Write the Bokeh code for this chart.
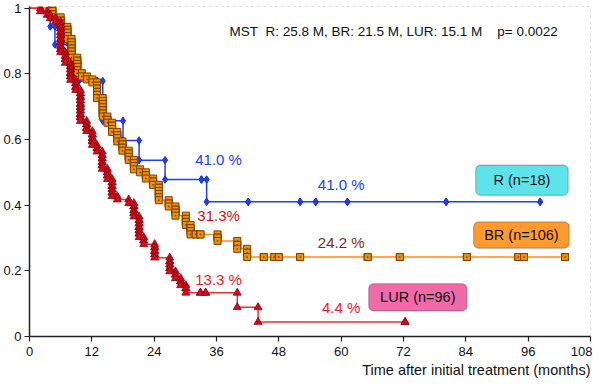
from bokeh.plotting import figure
from bokeh.models import FixedTicker, Label, BoxAnnotation, Range1d, Title
from bokeh.embed import file_html
from bokeh.resources import INLINE

# ---------------- data ----------------
x_ticks = [0, 12, 24, 36, 48, 60, 72, 84, 96, 108]
y_ticks = [0, 0.2, 0.4, 0.6, 0.8, 1.0]
y_tick_labels = ["0", "0.2", "0.4", "0.6", "0.8", "1"]

# R (n=18): event / censor times (months) and survival after each
r_time = [4.0, 4.9, 7.5, 9.5, 13.0, 14.1, 18.0, 21.1, 26.1, 33.1, 34.1,
          42.1, 52.1, 55.1, 61.2, 80.2, 98.3]
r_surv = [0.944, 0.889, 0.833, 0.778, 0.778, 0.657, 0.597, 0.537, 0.478, 0.478, 0.410,
          0.410, 0.410, 0.410, 0.410, 0.410, 0.410]

# BR (n=106)
br_time = [4.4, 4.4, 4.4, 6.0, 6.0, 6.0, 7.3, 7.3, 7.3, 7.3,
           8.1, 8.1, 8.1, 8.1, 8.1, 8.1, 9.2, 9.2, 9.2, 9.2, 9.2,
           10.1, 11.1, 12.1, 13.0, 13.0, 13.0, 13.0, 13.0,
           14.1, 14.1, 14.1, 14.1, 14.1, 14.1, 15.0, 15.0,
           15.9, 15.9, 15.9, 16.9, 16.9, 16.9, 17.9, 17.9, 17.9,
           19.1, 19.1, 19.1, 20.1, 20.1, 20.1, 21.3, 22.4, 22.4,
           23.8, 23.8, 24.9, 24.9, 24.9, 24.9, 24.9, 26.8, 26.8,
           28.1, 28.1, 28.1, 30.1, 30.1, 30.1, 31.0, 31.0, 31.0,
           32.0, 32.9, 36.2, 36.2, 40.0, 40.0, 41.9, 41.9,
           45.1, 47.1, 48.0, 52.1, 65.1, 71.3, 84.2, 94.1, 95.2, 103.1]
br_surv = [0.991, 0.981, 0.972, 0.962, 0.953, 0.943, 0.934, 0.925, 0.915, 0.906,
           0.896, 0.887, 0.877, 0.868, 0.858, 0.849, 0.840, 0.830, 0.821, 0.811, 0.802,
           0.792, 0.783, 0.774, 0.764, 0.755, 0.745, 0.736, 0.726,
           0.717, 0.708, 0.698, 0.689, 0.679, 0.670, 0.660, 0.651,
           0.642, 0.632, 0.623, 0.613, 0.604, 0.594, 0.585, 0.575, 0.566,
           0.557, 0.547, 0.538, 0.528, 0.519, 0.509, 0.500, 0.491, 0.481,
           0.472, 0.462, 0.453, 0.443, 0.434, 0.424, 0.415, 0.405, 0.396,
           0.386, 0.377, 0.368, 0.358, 0.349, 0.340, 0.330, 0.321, 0.311,
           0.311, 0.311, 0.301, 0.291, 0.279, 0.267, 0.255, 0.242,
           0.242, 0.242, 0.242, 0.242, 0.242, 0.242, 0.242, 0.242, 0.242, 0.242]

# LUR (n=96)
lur_time = [2.1, 3.4, 4.0, 5.0,
            6.0, 6.0, 6.0, 6.0, 6.0, 6.0, 6.0, 6.0, 6.0,
            6.9, 6.9, 6.9, 7.9, 7.9, 7.9, 7.9, 7.9, 8.9, 8.9, 8.9,
            9.8, 9.8, 9.8, 9.8, 9.8, 9.8, 9.8, 9.8, 9.8,
            11.0, 11.0, 11.0, 12.1, 12.1, 12.1, 12.1, 13.0, 13.0,
            14.0, 14.0, 14.0, 14.0, 14.0, 15.0, 15.0, 15.0,
            15.9, 15.9, 15.9, 15.9, 15.9, 16.9, 19.1,
            20.1, 20.1, 20.1, 20.1, 21.1, 21.1, 21.1, 21.1, 21.1, 21.1,
            22.0, 22.0, 24.1, 24.1, 24.1, 24.1, 27.0, 27.0, 27.0, 27.0,
            28.1, 28.1, 29.1, 29.1, 30.1, 30.1, 32.9, 33.9, 40.0, 44.0, 72.3]
lur_surv = [0.990, 0.979, 0.969, 0.958,
            0.948, 0.938, 0.927, 0.917, 0.906, 0.896, 0.885, 0.875, 0.865,
            0.854, 0.844, 0.833, 0.823, 0.813, 0.802, 0.792, 0.781, 0.771, 0.760, 0.750,
            0.740, 0.729, 0.719, 0.708, 0.698, 0.688, 0.677, 0.667, 0.656,
            0.646, 0.635, 0.625, 0.615, 0.604, 0.594, 0.583, 0.573, 0.563,
            0.552, 0.542, 0.531, 0.521, 0.510, 0.500, 0.490, 0.479,
            0.469, 0.458, 0.448, 0.438, 0.427, 0.417, 0.406,
            0.396, 0.385, 0.375, 0.365, 0.354, 0.344, 0.333, 0.323, 0.313, 0.302,
            0.292, 0.281, 0.271, 0.260, 0.250, 0.240, 0.229, 0.219, 0.208, 0.198,
            0.188, 0.177, 0.167, 0.156, 0.146, 0.133, 0.133, 0.133, 0.089, 0.044, 0.044]

FONT = "Liberation Sans"
NB = "\u00a0"


def km_steps(times, surv):
    xs, ys = [0.0], [1.0]
    prev = 1.0
    for t, s in zip(times, surv):
        xs += [t, t]
        ys += [prev, s]
        prev = s
    return xs, ys


p = figure(width=592, height=378, output_backend="svg", toolbar_location=None,
           x_range=Range1d(0, 108), y_range=Range1d(0, 1.005),
           min_border_left=20, min_border_right=2, min_border_top=6, min_border_bottom=10)
p.grid.visible = False
p.outline_line_color = "#d8d8d8"
p.outline_line_dash = "dotted"
p.background_fill_color = "white"
p.border_fill_color = "white"

for ax in (p.xaxis[0], p.yaxis[0]):
    ax.axis_line_color = "#222222"
    ax.axis_line_width = 1.5
    ax.major_tick_line_color = "#222222"
    ax.major_tick_line_width = 1.2
    ax.major_tick_out = 5
    ax.major_tick_in = 0
    ax.minor_tick_line_color = None
    ax.major_label_text_font = FONT
    ax.major_label_text_font_size = "13px"
    ax.major_label_text_color = "#111111"
    ax.major_label_standoff = 3

p.xaxis.major_label_standoff = 5
p.xaxis.ticker = FixedTicker(ticks=x_ticks)
p.yaxis.ticker = FixedTicker(ticks=y_ticks)
p.yaxis.major_label_overrides = {t: l for t, l in zip(y_ticks, y_tick_labels)}

p.add_layout(Title(text="Time after initial treatment (months)", align="right",
                   text_font=FONT, text_font_size="14.5px", text_font_style="normal",
                   text_color="#111111", standoff=2), "below")

# curves
rx, ry = km_steps(r_time, r_surv)
bx, by = km_steps(br_time, br_surv)
lx, ly = km_steps(lur_time, lur_surv)

p.line(rx, ry, line_color="#1f3dff", line_width=1.5)
p.scatter(rx[1:], ry[1:], marker="diamond", size=7.5, fill_color="#1f3dff", line_color="#1030e0")

p.line(bx, by, line_color="#ff8c1a", line_width=1.5)
p.scatter(bx[1:], by[1:], marker="square_dot", size=7, fill_color="#f29100",
          line_color="#7a4000", line_width=1)

p.line(lx, ly, line_color="#e8303a", line_width=1.5)
p.scatter(lx[1:], ly[1:], marker="triangle", size=8, fill_color="#dc0a18",
          line_color="#8a0010", line_width=0.8)

# annotations
mst = "MST" + NB * 2 + "R: 25.8 M, BR: 21.5 M, LUR: 15.1 M" + NB * 4 + "p= 0.0022"
p.add_layout(Label(x=38.5, y=0.928, text=mst,
                   text_font=FONT, text_font_size="13.5px", text_color="#111111",
                   text_baseline="middle"))

pct = [(36.4, 0.540, "41.0 %", "#2040ff"),
       (60.0, 0.463, "41.0 %", "#2040ff"),
       (36.4, 0.367, "31.3%", "#d01020"),
       (60.0, 0.287, "24.2 %", "#8b1e1e"),
       (36.4, 0.173, "13.3 %", "#e8202a"),
       (60.0, 0.087, "4.4 %", "#e8202a")]
for x, y, t, c in pct:
    p.add_layout(Label(x=x, y=y, text=t, text_font=FONT, text_font_size="15px",
                       text_color=c, text_align="center", text_baseline="middle"))

boxes = [(85.9, 103.7, 0.430, 0.522, "#5fe3ea", "R (n=18)"),
         (85.5, 103.9, 0.269, 0.349, "#ff9a30", "BR (n=106)"),
         (65.3, 84.2, 0.078, 0.161, "#f06aa8", "LUR (n=96)")]
for l, r, b, t, c, txt in boxes:
    p.add_layout(BoxAnnotation(left=l, right=r, bottom=b, top=t, fill_color=c, fill_alpha=1.0,
                               line_color="#333333", line_width=1.2, border_radius=5))
    p.add_layout(Label(x=(l + r) / 2, y=(b + t) / 2, text=txt, text_font=FONT,
                       text_font_size="14.5px", text_color="#111111",
                       text_align="center", text_baseline="middle"))

open("out.html", "w").write(file_html(p, INLINE))
